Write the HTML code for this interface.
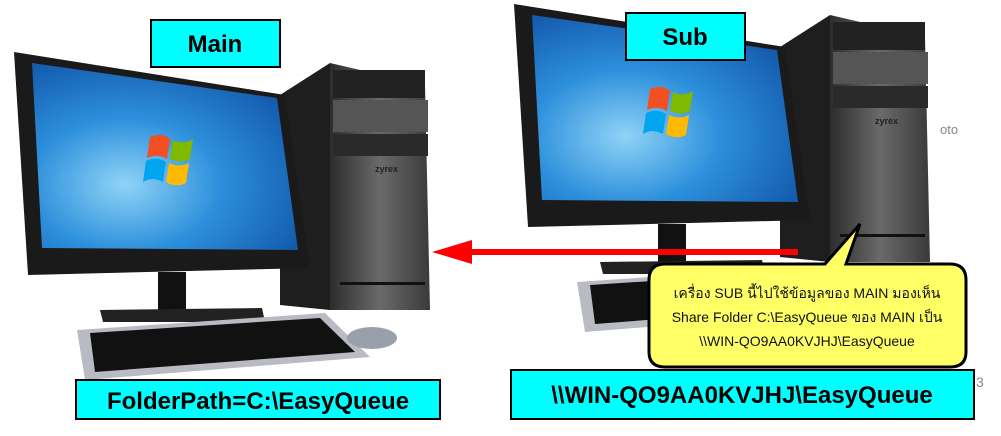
<!DOCTYPE html>
<html><head><meta charset="utf-8"><style>
body{margin:0;background:#fff;width:1001px;height:431px;overflow:hidden;font-family:"Liberation Sans",sans-serif}
</style></head><body>
<svg width="1001" height="431" viewBox="0 0 1001 431" xmlns="http://www.w3.org/2000/svg">
<defs>
<radialGradient id="scr" cx="0.35" cy="0.65" r="0.8"><stop offset="0" stop-color="#8fd3f7"/><stop offset="0.45" stop-color="#2c8fdb"/><stop offset="1" stop-color="#0f4fa3"/></radialGradient>
<linearGradient id="tw" x1="0" x2="1"><stop offset="0" stop-color="#2d2d2d"/><stop offset="0.5" stop-color="#6a6a6a"/><stop offset="1" stop-color="#3a3a3a"/></linearGradient>
<g id="pc">
  <polygon points="280,95 330,63 330,310 280,305" fill="#1e1e1e"/>
  <polygon points="330,63 425,85 430,310 330,310" fill="url(#tw)"/>
  <rect x="333" y="70" width="92" height="28" fill="#222"/>
  <rect x="333" y="100" width="95" height="32" fill="#555"/>
  <rect x="333" y="134" width="95" height="22" fill="#2a2a2a"/>
  <text x="375" y="172" font-size="9" font-weight="bold" fill="#222">zyrex</text>
  <rect x="340" y="282" width="85" height="3" fill="#111"/>
  <polygon points="14,52 285,95 310,268 28,275" fill="#1a1a1a"/>
  <polygon points="32,63 277,98 298,250 42,248" fill="url(#scr)"/>
  <g transform="translate(150,137)">
    <path d="M0,0 q12,-5 20,2 l-3,20 q-9,-6 -20,-1z" fill="#f25022"/>
    <path d="M23,3 q10,5 20,-1 l-3,20 q-10,5 -20,0z" fill="#7fba00"/>
    <path d="M-4,24 q10,-5 20,1 l-3,20 q-11,-6 -20,0z" fill="#00a4ef"/>
    <path d="M19,26 q10,5 20,0 l-3,20 q-10,5 -20,-1z" fill="#ffb900"/>
  </g>
  <rect x="158" y="272" width="28" height="38" fill="#111"/>
  <polygon points="100,310 262,308 265,322 103,322" fill="#222"/>
  <polygon points="77,330 325,313 370,357 85,380" fill="#b8bcc2"/>
  <polygon points="90,333 320,318 355,352 95,372" fill="#111"/>
  <ellipse cx="372" cy="338" rx="25" ry="11" fill="#9aa0aa"/>
</g>
</defs>
<use href="#pc"/>
<use href="#pc" transform="translate(500,-48)"/>
<text x="940" y="134" font-size="13" fill="#888">oto</text>
<text x="976" y="387" font-size="14" fill="#888">3</text>
<rect x="151" y="20" width="129" height="47" fill="#00ffff" stroke="#000" stroke-width="2"/>
<text x="215" y="52" font-size="24" font-weight="bold" text-anchor="middle">Main</text>
<rect x="626" y="13" width="119" height="47" fill="#00ffff" stroke="#000" stroke-width="2"/>
<text x="685" y="45" font-size="24" font-weight="bold" text-anchor="middle">Sub</text>
<rect x="76" y="380" width="364" height="39" fill="#00ffff" stroke="#000" stroke-width="2"/>
<text x="258" y="409" font-size="24" font-weight="bold" text-anchor="middle">FolderPath=C:\EasyQueue</text>
<rect x="511" y="370" width="463" height="49" fill="#00ffff" stroke="#000" stroke-width="2"/>
<text x="742" y="403" font-size="24" font-weight="bold" text-anchor="middle">\\WIN-QO9AA0KVJHJ\EasyQueue</text>
<rect x="470" y="249" width="328" height="6" fill="#ff0000"/>
<polygon points="432,252 472,240 472,264" fill="#ff0000"/>
<path d="M665,264 L825,264 L860,224 L846,264 L950,264 Q966,264 966,280 L966,352 Q966,367 950,367 L665,367 Q649,367 649,352 L649,280 Q649,264 665,264Z" fill="#ffff66" stroke="#000" stroke-width="3"/>
<g font-family="'Liberation Sans','DejaVu Sans',sans-serif" font-size="14" text-anchor="middle" fill="#111">
<text x="807" y="298">เครื่อง SUB นี้ไปใช้ข้อมูลของ MAIN มองเห็น</text>
<text x="807" y="322">Share Folder C:\EasyQueue ของ MAIN เป็น</text>
<text x="807" y="346">\\WIN-QO9AA0KVJHJ\EasyQueue</text>
</g>
</svg>
</body></html>
